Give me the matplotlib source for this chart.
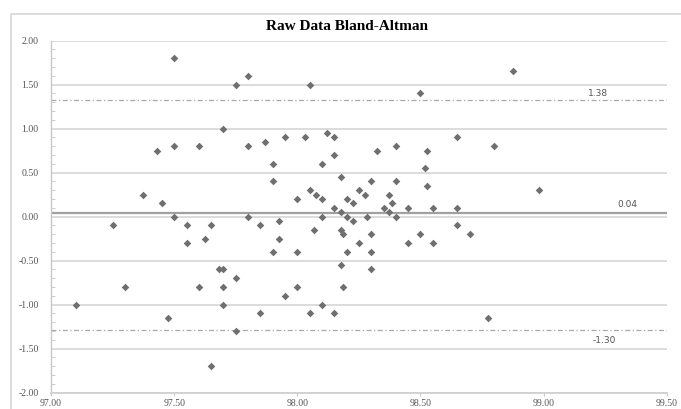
import numpy as np
import matplotlib.pyplot as plt
from matplotlib.lines import Line2D
from matplotlib.ticker import MultipleLocator, FormatStrFormatter

plt.rcParams['axes.unicode_minus'] = False

# Mean of the two readings (x) and their difference (y)
mean_vals = [97.50, 97.75, 97.80, 98.05, 98.50, 98.875, 97.70, 97.43, 97.50, 97.60,
             97.80, 97.87, 97.95, 98.03, 98.12, 98.15, 98.15, 98.10, 97.90, 98.325,
             98.40, 98.525, 98.65, 98.80, 98.517, 98.177, 97.90, 98.30, 98.40, 98.525,
             98.983, 97.374, 97.45, 98.00, 98.05, 98.076, 98.10, 98.15, 98.177, 98.20,
             98.226, 98.25, 98.274, 98.35, 98.374, 98.385, 98.374, 98.45, 98.55, 98.65,
             97.50, 97.80, 98.10, 98.20, 98.284, 98.40, 97.25, 97.55, 97.65, 97.85,
             97.925, 98.067, 98.177, 98.184, 98.226, 98.30, 98.50, 98.65, 98.70, 97.55,
             97.625, 97.925, 98.25, 98.45, 98.55, 97.90, 98.00, 98.20, 98.30, 98.177,
             98.30, 97.683, 97.70, 97.75, 97.30, 97.60, 97.70, 98.00, 98.184, 97.95,
             97.10, 97.70, 98.10, 97.85, 98.05, 98.15, 97.475, 98.775, 97.75, 97.65]
diff_vals = [1.80, 1.50, 1.60, 1.50, 1.40, 1.65, 1.00, 0.75, 0.80, 0.80,
             0.80, 0.85, 0.90, 0.90, 0.95, 0.90, 0.70, 0.60, 0.60, 0.75,
             0.80, 0.75, 0.90, 0.80, 0.55, 0.45, 0.40, 0.40, 0.40, 0.35,
             0.30, 0.25, 0.15, 0.20, 0.30, 0.25, 0.20, 0.10, 0.05, 0.20,
             0.15, 0.30, 0.25, 0.10, 0.25, 0.15, 0.05, 0.10, 0.10, 0.10,
             0.00, 0.00, 0.00, 0.00, 0.00, 0.00, -0.10, -0.10, -0.10, -0.10,
             -0.05, -0.15, -0.15, -0.20, -0.05, -0.20, -0.20, -0.10, -0.20, -0.30,
             -0.25, -0.25, -0.30, -0.30, -0.30, -0.40, -0.40, -0.40, -0.40, -0.55,
             -0.60, -0.60, -0.60, -0.70, -0.80, -0.80, -0.80, -0.80, -0.80, -0.90,
             -1.00, -1.00, -1.00, -1.10, -1.10, -1.10, -1.15, -1.15, -1.30, -1.70]

# Limits of agreement and bias (as drawn) with their labels
line_y = [1.33, 0.04, -1.29]
line_labels = ['1.38', '0.04', '-1.30']
label_pos = [(99.22, 1.40), (99.34, 0.14), (99.245, -1.41)]

fig = plt.figure(figsize=(6.81, 4.09), dpi=100)
ax = fig.add_axes([0.075, 0.04, 0.904, 0.8605])

# outer chart border (left and top edges only are visible)
fig.lines.append(Line2D([0.016, 0.016, 1.0], [0.0, 0.966, 0.966], transform=fig.transFigure,
                        color='#d9d9d9', linewidth=1.3, zorder=0))

ax.set_xlim(97.0, 99.5)
ax.set_ylim(-2.0, 2.0)
ax.yaxis.set_major_locator(MultipleLocator(0.5))
ax.yaxis.set_minor_locator(MultipleLocator(0.1))
ax.xaxis.set_major_locator(MultipleLocator(0.5))
ax.xaxis.set_major_formatter(FormatStrFormatter('%.2f'))
ax.yaxis.set_major_formatter(FormatStrFormatter('%.2f'))

ax.grid(axis='y', which='major', color='#d9d9d9', linewidth=1.3, zorder=0)
ax.set_axisbelow(True)
for s in ['top', 'right']:
    ax.spines[s].set_visible(False)
ax.spines['left'].set_color('#c8c8c8')
ax.spines['bottom'].set_color('#d0d0d0')
ax.spines['left'].set_linewidth(1.0)
ax.spines['bottom'].set_linewidth(1.3)

ax.tick_params(axis='y', which='major', length=0, pad=9, labelsize=7, labelcolor='#555555')
ax.tick_params(axis='y', which='minor', direction='in', length=3, color='#c8c8c8')
ax.tick_params(axis='x', which='major', length=2.5, color='#c8c8c8', pad=2,
               labelsize=7, labelcolor='#555555')
for lbl in ax.get_xticklabels() + ax.get_yticklabels():
    lbl.set_fontfamily('Liberation Serif')

ax.axhline(line_y[0], color='#a8a8a8', linewidth=0.9, linestyle=(0, (4, 2, 1, 2)))
ax.axhline(line_y[1], color='#a0a0a0', linewidth=1.6)
ax.axhline(line_y[2], color='#a8a8a8', linewidth=0.9, linestyle=(0, (4, 2, 1, 2)))

ax.scatter(mean_vals, diff_vals, marker='D', s=15, color='#6f6f6f', linewidths=0, zorder=3)

for txt, (tx, ty) in zip(line_labels, label_pos):
    ax.text(tx, ty, txt, fontsize=6.5, color='#555555', ha='center', va='center')

fig.text(0.51, 0.936, 'Raw Data Bland-Altman', ha='center', va='center',
         fontsize=11, fontweight='bold', family='Liberation Serif')

fig.savefig('out.png', dpi=100)
